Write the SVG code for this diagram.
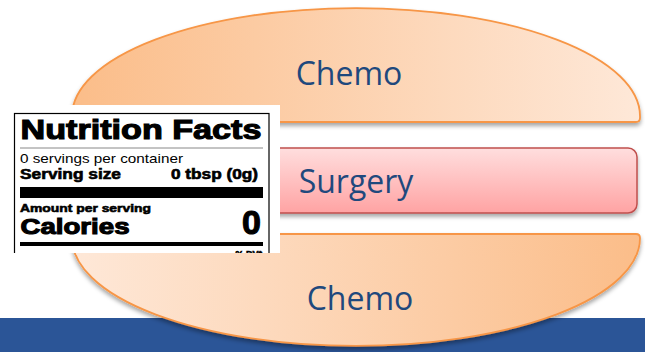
<svg xmlns="http://www.w3.org/2000/svg" width="645" height="352" viewBox="0 0 645 352">
<defs>
<linearGradient id="gTop" x1="0" y1="0" x2="1" y2="0"><stop offset="0" stop-color="#fbbd89"/><stop offset="1" stop-color="#fee8d8"/></linearGradient>
<linearGradient id="gBot" x1="0" y1="0" x2="1" y2="0"><stop offset="0" stop-color="#fee8d8"/><stop offset="1" stop-color="#fbbd89"/></linearGradient>
<linearGradient id="gRed" x1="0" y1="0" x2="0" y2="1"><stop offset="0" stop-color="#ffdede"/><stop offset="1" stop-color="#ffa3a3"/></linearGradient>
<filter id="sh" x="-10%" y="-10%" width="120%" height="130%"><feDropShadow dx="0" dy="3" stdDeviation="2" flood-color="#000" flood-opacity="0.35"/></filter>
<clipPath id="labelClip"><rect x="0" y="105" width="280" height="148"/></clipPath>
<style>
.bun{stroke:#f79646;stroke-width:1.8;filter:url(#sh)}
.lbl{font-family:"Open Sans","Liberation Sans",sans-serif;font-size:32px;fill:#1f497d;text-anchor:middle}
.nf{font-family:"Liberation Sans",Arial,sans-serif;fill:#000}
.b{font-weight:bold;stroke:#000;stroke-width:0.6}
.bb{font-weight:bold;stroke:#000;stroke-width:1.1}
</style>
</defs>
<rect x="0" y="318" width="645" height="34" fill="#2b5597"/>
<g id="chemo-top">
<path class="bun" fill="url(#gTop)" d="M72,116 A284,108 0 0 1 640,116 L640,118 Q640,122 636,122 L76,122 Q72,122 72,118 Z"/>
<text class="lbl" x="349" y="85">Chemo</text>
</g>
<g id="surgery">
<rect x="75" y="148" width="562" height="65" rx="9" fill="url(#gRed)" stroke="#c0504d" stroke-width="1.5" filter="url(#sh)"/>
<text class="lbl" x="356" y="193">Surgery</text>
</g>
<g id="chemo-bottom">
<path class="bun" fill="url(#gBot)" d="M76,234 L636,234 Q640,234 640,238 A284,108 0 0 1 72,238 Q72,234 76,234 Z"/>
<text class="lbl" x="360" y="310">Chemo</text>
</g>
<g id="nutrition-label" clip-path="url(#labelClip)">
<rect x="0" y="105" width="280" height="148" fill="#fff"/>
<rect x="14.5" y="113.5" width="254.5" height="160" fill="none" stroke="#000" stroke-width="1.2"/>
<text class="nf bb" x="20.5" y="139" font-size="27" textLength="241" lengthAdjust="spacingAndGlyphs">Nutrition Facts</text>
<line x1="20" y1="148" x2="263" y2="148" stroke="#888" stroke-width="1"/>
<text class="nf" x="20" y="163" font-size="13.5" textLength="163" lengthAdjust="spacingAndGlyphs">0 servings per container</text>
<text class="nf b" x="20" y="179" font-size="14" textLength="101" lengthAdjust="spacingAndGlyphs">Serving size</text>
<text class="nf b" x="258" y="179" font-size="14" text-anchor="end" textLength="87" lengthAdjust="spacingAndGlyphs">0 tbsp (0g)</text>
<rect x="20" y="187" width="243" height="11" fill="#000"/>
<text class="nf b" x="20" y="212" font-size="11.5" textLength="131" lengthAdjust="spacingAndGlyphs">Amount per serving</text>
<text class="nf bb" x="20.5" y="234" font-size="22" textLength="109" lengthAdjust="spacingAndGlyphs">Calories</text>
<text class="nf bb" x="261" y="234" font-size="34" text-anchor="end">0</text>
<rect x="20" y="242" width="243" height="4" fill="#000"/>
<text class="nf b" x="262" y="257" font-size="9" text-anchor="end">% DV*</text>
</g>
</svg>
